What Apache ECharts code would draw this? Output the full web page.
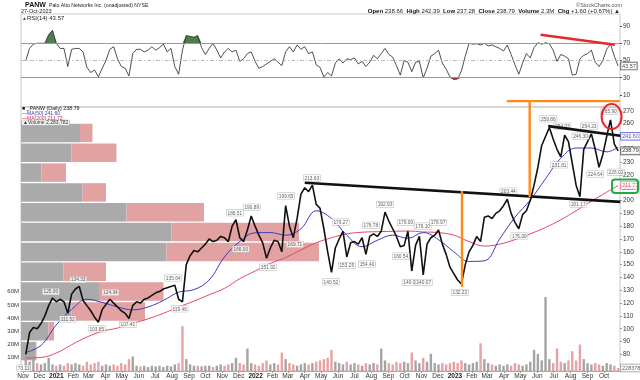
<!DOCTYPE html>
<html><head><meta charset="utf-8">
<script src="https://cdn.jsdelivr.net/npm/echarts@6/dist/echarts.min.js"></script>
<style>html,body{margin:0;padding:0;background:#fff}#c{width:640px;height:380px}</style>
</head><body><div id="c"></div>
<script>
// ---------- data ----------
const weekStart = '2020-11-06';            // weekly samples, Fridays
const closes = [80,97,101,100,104,110,118,124,121,123,
121,112,127,131,133,122,118,114,109,105,
115,119,123,120,117,114,112,108,118,121,
120,123,124,126,128,129,131,132,133,134,
123,121,150,157,161,160,163,166,170,168,
169,172,171,168,180,185,171,168,177,188,
180,173,167,155,163,169,168,160,196,180,
171,186,205,210,207,212,197,194,178,160,
144,163,170,176,156,167,168,166,171,158,
172,174,172,176,191,184,178,172,164,165,
176,145,165,172,142,166,171,173,177,166,
158,148,143,138,135,150,160,165,172,168,
187,188,186,190,192,196,201,190,183,178,
189,192,200,212,226,243,250,257,248,240,
234,251,246,229,212,203,240,246,252,240,
226,236,250,263,244,238.79];
const rsi = [50,64,69,70,70,70,80,85,70,64,
64,43,63,64,64,60,42,36,39,31,
41,50,63,66,52,43,41,32,58,63,
63,60,62,66,62,65,69,60,64,43,
34,62,79,78,77,79,65,57,64,70,
62,53,60,64,60,62,49,52,58,60,
49,41,43,46,49,52,48,44,60,66,
60,68,63,66,58,60,45,42,31,36,
32,47,52,47,52,51,53,46,49,43,
48,56,52,58,64,57,54,44,33,50,
48,37,48,49,30,41,55,58,62,47,
40,31,28,28.5,38,55,70,69,69.5,68,
70,67,68,66,64,61,68,57,45,34,
47,58,53,65,70.5,69,70.5,69.5,62,49,
57,55,52,33,34,52,56,58,62,48,
43,50,63,69,55,43.57];
const volumeM = [9,7,10,6,5,6,10,5,4,5,
4,6,5,6,5,4,7,5,6,7,
4,5,4,5,4,6,5,9,11,4,
3.5,4,3,4,3.5,4,3,4,3.5,5,
6,34,9,5,4,4,3.5,4,4,3,
4,5,4,5,6,10,6,5,17,6,
5,4,6,8,5,6,5,14,9,6,
5,4,5,6,5,6,7,8,9,10,
16,7,6,5,7,5,6,5,4,6,
5,6,5,17,8,6,5,7,6,7,
6,14,8,6,10,7,13,6,5,6,
5,6,7,6,8,6,5,6,7,21,
9,6,5,4,5,4,5,4,6,5,
4,5,7,16,13,8,56,9,6,17,
7,6,8,15,8,20,9,6,5,6,
5,4,6,5,4,2.28];
// moving averages sampled every 4 weeks (last = final week)
const ma50 = [81.5,87,103,115,123,120.5,117,114.7,117,122,128.5,130.5,138,156,168,174.8,175,173,178,192,186,173,164,169,173,170.5,175,169.5,160,152.5,153,170,187,200.4,217,233,241,241,238,241.6];
const ma200 = [77.2,77.6,81,87.5,93.5,98,100.5,104.2,107.7,112,117,121.5,126.5,131.5,139,145,151,155.5,161.5,167,171,174,175.3,175.7,176,176.2,175.5,175,173,168,164.5,166,169.5,174,179,185,192,199.5,206.5,211.72];
// volume by price (12 bins, top to bottom), millions
const vbpBins = ['253','237','222','206','191','175','160','144','129','113','98','82'];
const vbpGray = [118,101,41,123,211,301,291,85,156,101,55,28];
const vbpPink = [25,90,49,47,155,255,305,85,129,147,11,3];
// labelled highs (H) and lows (L)
const annoDates = ['2020-11-02','2020-12-22','2021-01-22','2021-02-10','2021-03-16','2021-04-10','2021-05-12','2021-08-03','2021-08-15','2021-11-24','2021-12-05','2021-12-25','2022-01-24','2022-02-26','2022-03-14','2022-04-14','2022-05-19','2022-06-06','2022-06-17','2022-07-24','2022-07-31','2022-08-26','2022-09-24','2022-10-03','2022-10-12','2022-11-03','2022-11-05','2022-12-01','2023-01-10','2023-04-09','2023-04-29','2023-06-21','2023-07-11','2023-07-17','2023-08-19','2023-08-15','2023-09-04','2023-09-15','2023-10-11','2023-10-23'];
const annoValues = [73.11,125.00,111.52,134.33,103.85,124.34,107.41,135.64,119.46,186.51,166.00,190.89,151.92,199.65,169.71,213.63,140.52,179.27,153.25,154.40,176.78,192.93,160.54,179.00,140.01,176.10,140.07,178.97,132.22,203.44,176.30,259.86,231.81,254.03,246.30,201.17,254.23,224.64,265.90,226.02];
const annoSide = ['L','H','L','H','L','H','L','H','L','H','L','H','L','H','L','H','L','H','L','L','H','H','L','H','L','H','L','H','L','H','L','H','L','H','H','L','H','L','H','L'];
// drawn annotations
const supportLine = [['2022-04-01',213.9],['2023-10-31',199.0]];
const topLine = [['2023-06-21',258.1],['2023-10-31',250.6]];
const orangeH = [['2023-04-06',277.6],['2023-10-30',277.6]];
const orangeV1 = [['2023-05-18',277.6],['2023-05-18',202.7]];
const orangeV2 = [['2023-01-14',207.4],['2023-01-14',132.6]];
const rsiTrend = [['2023-06-07',79.9],['2023-10-21',68.3]];
const peakCircle = ['2023-10-15',265.5];
const priceTicks = [80,90,100,110,120,130,140,150,160,170,180,190,200,210,220,230,240,250,260,270];
const rsiTicks = [10,30,50,70,90];
const volTicks = [10,20,30,40,50,60];
const MONTHS = ['Jan','Feb','Mar','Apr','May','Jun','Jul','Aug','Sep','Oct','Nov','Dec'];
const last = {close:238.79, ma50:241.60, ma200:211.72, rsi:43.57, vol:2.283782};

// ---------- build ----------
const DAY = 86400000;
const T = s => Date.parse(s);
const wk = i => T(weekStart) + 7*i*DAY;
const X0 = Date.UTC(2020,10,1);
const xMin = X0 - 3.7*DAY, xMax = X0 + 1093.4*DAY;
const monthTicks = Array.from({length:36},(_,k)=>Date.UTC(2020,10+k,1));
const FONT = 'Liberation Sans, Arial, sans-serif';
const maWeek = k => k < ma50.length-1 ? k*4 : closes.length-1;
const pairs = a => a.map(p=>[T(p[0]), p[1]]);

const volData = volumeM.map((v,i)=>({value:[wk(i), v],
  itemStyle:{color:(i===0||closes[i]>=closes[i-1])?'#a4a4a4':'#e8a2a2'}}));
const annoData = annoDates.map((d,i)=>({value:[T(d), annoValues[i]],
  label:{position: annoSide[i]==='H'?'top':'bottom'}}));

const boxLabel = (text, color, border, offsetY) => ({show:true, position:'right', distance:1,
  formatter:text, fontSize:5.5, fontFamily:FONT, color:color, backgroundColor:'#fff',
  borderColor:border, borderWidth:0.8, padding:[1,1,0,1], offset:[0,offsetY||0]});

const trend = (data, color, w, xi, yi) => ({type:'line', xAxisIndex:xi, yAxisIndex:yi, data:pairs(data),
  symbol:'none', clip:false, silent:true, z:8, lineStyle:{color:color, width:w}});

const axisLbl = {fontSize:6.5, fontFamily:FONT, color:'#333'};
const option = {
  animation:false,
  backgroundColor:'#fff',
  grid:[
    {left:21, top:14, width:599, height:93, show:true, borderColor:'#c8c8c8', borderWidth:1},
    {left:21, top:107, width:599, height:264, show:true, borderColor:'#c8c8c8', borderWidth:1},
    {left:21, top:123, width:599, height:238, show:false}
  ],
  xAxis:[
    {type:'value', gridIndex:0, min:xMin, max:xMax, axisLine:{show:false}, axisTick:{show:false}, axisLabel:{show:false}, splitLine:{show:false}},
    {type:'value', gridIndex:1, min:xMin, max:xMax, axisLine:{show:true, lineStyle:{color:'#aaa'}},
      axisTick:{show:true, length:2, customValues:monthTicks, lineStyle:{color:'#999'}},
      axisLabel:Object.assign({customValues:monthTicks, margin:2,
        formatter:v=>{const d=new Date(v); const m=d.getUTCMonth(); return m===0?'{y|'+d.getUTCFullYear()+'}':MONTHS[m];},
        rich:{y:{fontWeight:'bold', fontSize:6.5, fontFamily:FONT, color:'#222'}}}, axisLbl),
      splitLine:{show:false}},
    {type:'value', gridIndex:2, min:0, max:1198, show:false}
  ],
  yAxis:[
    {type:'value', gridIndex:0, min:-4, max:104, position:'right', axisLine:{show:false},
      axisTick:{show:true, length:2, customValues:rsiTicks}, splitLine:{show:false},
      axisLabel:Object.assign({customValues:rsiTicks, margin:3}, axisLbl)},
    {type:'value', gridIndex:1, min:67, max:273, position:'right', axisLine:{show:false},
      axisTick:{show:true, length:2, customValues:priceTicks, lineStyle:{color:'#999'}}, splitLine:{show:false},
      axisLabel:Object.assign({customValues:priceTicks, margin:3}, axisLbl)},
    {type:'value', gridIndex:1, min:0, max:200, position:'left', axisLine:{show:false},
      axisTick:{show:false}, splitLine:{show:false},
      axisLabel:Object.assign({customValues:volTicks, margin:2, formatter:v=>v+'M'}, axisLbl, {fontSize:6})},
    {type:'category', gridIndex:2, data:vbpBins, inverse:true, show:false}
  ],
  series:[
    {type:'bar', xAxisIndex:2, yAxisIndex:3, stack:'vbp', data:vbpGray, barCategoryGap:'7%', itemStyle:{color:'#aaaaaa'}, silent:true, z:1},
    {type:'bar', xAxisIndex:2, yAxisIndex:3, stack:'vbp', data:vbpPink, barCategoryGap:'7%', itemStyle:{color:'#e2a2a2'}, silent:true, z:1},
    {type:'bar', xAxisIndex:1, yAxisIndex:2, data:volData, barWidth:2.4, silent:true, z:2},
    {type:'line', xAxisIndex:1, yAxisIndex:1, data:ma200.map((v,k)=>[wk(maWeek(k)), v]), symbol:'none', smooth:0.4, lineStyle:{color:'#e8476a', width:1}, z:3},
    {type:'line', xAxisIndex:1, yAxisIndex:1, data:ma50.map((v,k)=>[wk(maWeek(k)), v]), symbol:'none', smooth:0.4, lineStyle:{color:'#3a3ac4', width:1}, z:3},
    {type:'line', xAxisIndex:1, yAxisIndex:1, data:closes.map((v,i)=>[wk(i), v]), symbol:'none', lineStyle:{color:'#111', width:1.6}, z:4},
    {type:'scatter', xAxisIndex:1, yAxisIndex:1, data:annoData, symbolSize:0.1, clip:false, z:6,
      label:{show:true, distance:2, formatter:p=>p.value[1].toFixed(2), fontSize:4.8, fontFamily:FONT, color:'#333',
        backgroundColor:'#fff', borderColor:'#aaa', borderWidth:0.5, padding:[1,1,0,1]}},
    trend(supportLine,'#111',2.6,1,1),
    trend(topLine,'#111',2.6,1,1),
    trend(orangeH,'#ff8a1c',2.4,1,1),
    trend(orangeV1,'#ff8a1c',2.4,1,1),
    trend(orangeV2,'#ff8a1c',2.4,1,1),
    {type:'line', xAxisIndex:0, yAxisIndex:0, data:rsi.map((v,i)=>[wk(i), Math.max(v,70)]), symbol:'none',
      lineStyle:{width:0}, areaStyle:{origin:70, color:'#4d7f4d', opacity:1}, silent:true, z:2},
    {type:'line', xAxisIndex:0, yAxisIndex:0, data:rsi.map((v,i)=>[wk(i), Math.min(v,30)]), symbol:'none',
      lineStyle:{width:0}, areaStyle:{origin:30, color:'#c43a3a', opacity:1}, silent:true, z:2},
    {type:'line', xAxisIndex:0, yAxisIndex:0, data:rsi.map((v,i)=>[wk(i), v]), symbol:'none',
      lineStyle:{color:'#222', width:0.8}, z:3,
      markLine:{silent:true, symbol:'none', label:{show:false}, data:[
        {yAxis:70, lineStyle:{color:'#999', type:'solid', width:1}},
        {yAxis:30, lineStyle:{color:'#999', type:'solid', width:1}},
        {yAxis:50, lineStyle:{color:'#aaa', type:[4,2,1,2], width:0.8}}]}},
    trend(rsiTrend,'#e8262c',2.4,0,0),
    {type:'scatter', xAxisIndex:1, yAxisIndex:1, symbolSize:0.1, clip:false, z:9, data:[
      {value:[xMax, last.ma50], label:boxLabel(last.ma50.toFixed(2),'#3a3ac4','#3a3ac4',-11)},
      {value:[xMax, last.close], label:boxLabel(last.close.toFixed(2),'#000','#333',0)},
      {value:[xMax, last.ma200], label:boxLabel(last.ma200.toFixed(2),'#d0284a','#e07a90',0)}]},
    {type:'scatter', xAxisIndex:1, yAxisIndex:2, symbolSize:0.1, clip:false, z:9, data:[
      {value:[xMax, last.vol], label:boxLabel(String(Math.round(last.vol*1e6)),'#333','#888',0)}]},
    {type:'scatter', xAxisIndex:0, yAxisIndex:0, symbolSize:0.1, clip:false, z:9, data:[
      {value:[xMax, last.rsi], label:boxLabel(last.rsi.toFixed(2),'#111','#333',0)}]}
  ]
};
const chart = echarts.init(document.getElementById('c'));
chart.setOption(option);

const txt = (x,y,text,opt) => ({type:'text', silent:true, z:20,
  style:Object.assign({x:x, y:y, text:text, fontSize:5.5, fontFamily:FONT, fill:'#222', verticalAlign:'middle', align:'left'}, opt||{})});
const rb = {b:{fontWeight:'bold', fontSize:6, fontFamily:FONT, fill:'#111'}};
const c = chart.convertToPixel({seriesIndex:5}, [T(peakCircle[0]), peakCircle[1]]);
const g = chart.convertToPixel({seriesIndex:5}, [xMax, last.ma200]);
chart.setOption({graphic:[
  txt(25,5,'PANW',{fontWeight:'bold', fontSize:7, fill:'#111'}),
  txt(49,5.5,'Palo Alto Networks Inc. (unadjusted) NYSE',{fontSize:5.2}),
  txt(21,11.5,'27-Oct-2023',{fontSize:5.5}),
  txt(22,18.5,'{g|▲}RSI(14) 43.57',{fontSize:6, rich:{g:{fill:'#3a6a3a', fontSize:5}}}),
  txt(622,5,'©StockCharts.com',{align:'right', fontSize:5.5, fill:'#555'}),
  txt(620,11.5,'{b|Open} 238.66  {b|High} 242.39  {b|Low} 237.28  {b|Close} 238.79  {b|Volume} 2.3M  {b|Chg} +1.60 (+0.67%) ▲',{align:'right', fontSize:6, rich:rb}),
  txt(22,108.8,'■ _PANW (Daily) 238.79',{fontSize:5.3}),
  txt(22,113.5,'—MA(50) 241.60',{fontSize:5, fill:'#3a3ac4'}),
  txt(22,118.2,'—MA(200) 211.72',{fontSize:5, fill:'#d0284a'}),
  txt(22,122.8,'▲Volume 2,283,782',{fontSize:5, fill:'#333', backgroundColor:'#f2f2f2', borderColor:'#999', borderWidth:0.5, padding:[0,1]}),
  {type:'ellipse', silent:true, z:20, shape:{cx:c[0], cy:c[1], rx:10, ry:12.5},
    style:{fill:'none', stroke:'#e8262c', lineWidth:2}},
  {type:'rect', silent:true, z:20, shape:{x:g[0]-8, y:g[1]-6, width:26, height:13.5, r:3},
    style:{fill:'none', stroke:'#22aa44', lineWidth:2}}
]});
</script></body></html>
